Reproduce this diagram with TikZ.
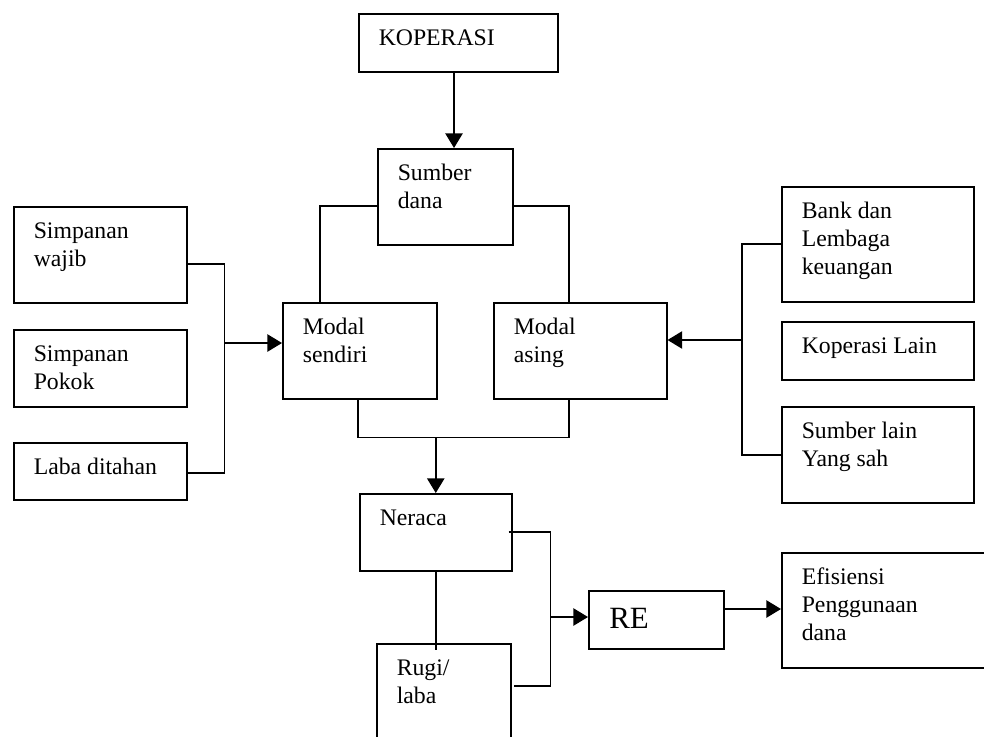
\documentclass[tikz,border=0pt]{standalone}
\usepackage{fontspec}
\setmainfont{Liberation Serif}
\usetikzlibrary{calc,arrows.meta}
\tikzset{
  box/.style={draw, line width=1.15pt, rectangle, inner sep=0pt, anchor=north west},
  txt/.style={anchor=base west, inner sep=0pt, font=\fontsize{17.8}{21}\selectfont},
  bigtxt/.style={anchor=base west, inner sep=0pt, font=\fontsize{23.2}{27}\selectfont},
  conn/.style={line width=1.15pt},
  arr/.style={line width=1.15pt, -{Triangle[length=11pt,width=13pt]}}
}
\newcommand{\mybox}[6]{%
  \node[box, minimum width=#4*0.75pt, minimum height=#5*0.75pt] (#1) at (#2,#3) {};
  \node[txt] (#1-t) at ($(#1.north west)+(20.5,32)$) {\begin{tabular}[t]{@{}l@{}}#6\end{tabular}};
}
\begin{document}
\begin{tikzpicture}[x=0.75pt,y=-0.75pt]
\useasboundingbox (0,0) rectangle (984,736);
\mybox{kop}{358}{13}{199}{58}{KOPERASI}
\mybox{sd}{377}{148}{135}{96}{Sumber\\dana}
\mybox{sw}{13}{206}{173}{96}{Simpanan\\wajib}
\mybox{sp}{13}{329}{173}{77}{Simpanan\\Pokok}
\mybox{ld}{13}{442}{173}{57}{Laba ditahan}
\mybox{ms}{282}{302}{154}{96}{Modal\\sendiri}
\mybox{ma}{493}{302}{173}{96}{Modal\\asing}
\mybox{bank}{781}{186}{192}{115}{Bank dan\\Lembaga\\keuangan}
\mybox{kl}{781}{321}{192}{58}{Koperasi Lain}
\mybox{sl}{781}{406}{192}{96}{Sumber lain\\Yang sah}
\mybox{ner}{359}{493}{152}{77}{Neraca}
\mybox{rugi}{376}{643}{134}{130}{Rugi/\\laba}
\node[box, minimum width=135*0.75pt, minimum height=58*0.75pt] (re) at (588,590) {};
\node[bigtxt] (re-t) at ($(re.north west)+(21,38.7)$) {RE};
\mybox{ef}{781}{552}{215}{115}{Efisiensi\\Penggunaan\\dana}

% KOPERASI -> Sumber dana
\coordinate (ka) at ($(kop.south west)+(96,0)$);
\draw[arr] (ka) -- (ka |- sd.north);
% Sumber dana -> Modal sendiri / Modal asing
\draw[conn] ($(sd.north west)+(0,58)$) -| ($(ms.north west)+(38,0)$);
\draw[conn] ($(sd.north east)+(0,58)$) -| ($(ma.north west)+(76,0)$);
% left bracket
\coordinate (lj) at ($(sw.north east)+(37,137)$);
\draw[conn] ($(sw.north east)+(0,58)$) -| (lj) |- ($(ld.north east)+(0,31)$);
\draw[arr] (lj) -- (lj -| ms.west);
% right bracket
\coordinate (rjb) at ($(bank.north west)+(-39,154)$);
\draw[conn] ($(bank.north west)+(0,58)$) -| (rjb) |- ($(sl.north west)+(0,49)$);
\draw[arr] (rjb) -- (rjb -| ma.east);
% bottom bracket Modal -> Neraca
\coordinate (bj) at ($(ms.south west)+(76,38)$);
\draw[conn] ($(ms.south west)+(76,0)$) -- (bj) -| ($(ma.south west)+(76,0)$);
\draw[arr] (ner.north |- bj) -- (ner.north);
% Neraca - Rugi/laba
\draw[conn] (ner.south) -- ($(ner.south)+(0,78)$);
% Neraca/Rugi -> RE
\coordinate (nj) at ($(ner.north east)+(38,124)$);
\draw[conn] ($(ner.north east)+(-4,39)$) -| (nj) |- ($(rugi.north east)+(2,43)$);
\draw[arr] (nj) -- (nj -| re.west);
% RE -> Efisiensi
\coordinate (rea) at ($(re.north east)+(0,19)$);
\draw[arr] (rea) -- (rea -| ef.west);
\end{tikzpicture}
\end{document}
